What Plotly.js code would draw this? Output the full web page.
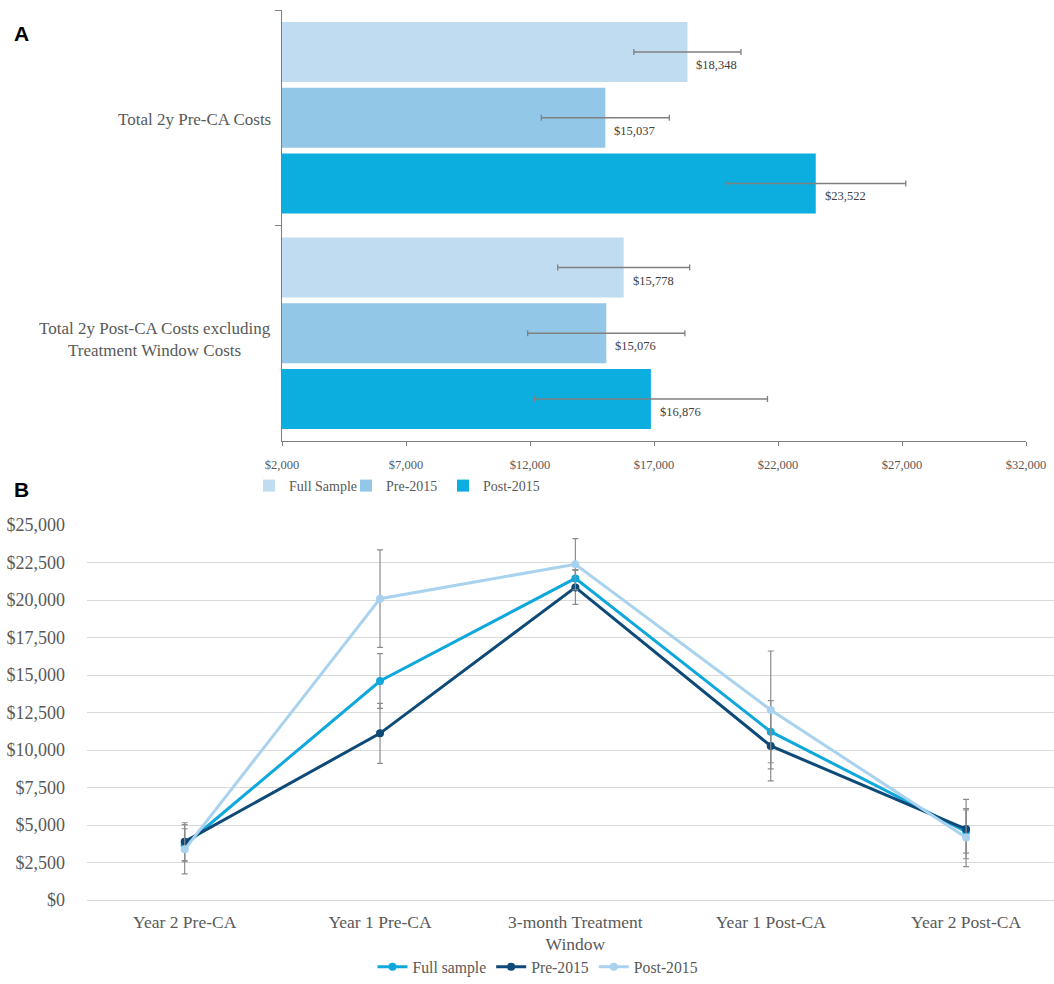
<!DOCTYPE html>
<html>
<head>
<meta charset="utf-8">
<script src="https://cdn.plot.ly/plotly-3.0.1.min.js"></script>
<style>html,body{margin:0;padding:0;background:#fff;}#chart{width:1054px;height:984px;}</style>
</head>
<body>
<div id="chart"></div>
<script>
// ---------- Panel A data ----------
const costCategories = ['Total 2y Pre-CA Costs', 'Total 2y Post-CA Costs excluding<br>Treatment Window Costs'];
const barSeriesNames = ['Full Sample', 'Pre-2015', 'Post-2015'];
const fullSampleCosts = [18348, 15778];
const pre2015Costs = [15037, 15076];
const post2015Costs = [23522, 16876];
const fullSampleErr = [2160, 2660];
const pre2015Err = [2580, 3170];
const post2015Err = [3630, 4700];
const costTicks = [2000, 7000, 12000, 17000, 22000, 27000, 32000];

// ---------- Panel B data ----------
const periods = ['Year 2 Pre-CA', 'Year 1 Pre-CA', '3-month Treatment<br>Window', 'Year 1 Post-CA', 'Year 2 Post-CA'];
const lineSeriesNames = ['Full sample', 'Pre-2015', 'Post-2015'];
const fullSampleLine = [3650, 14600, 21440, 11220, 4560];
const pre2015Line = [3890, 11110, 20840, 10270, 4730];
const post2015Line = [3380, 20090, 22380, 12670, 4160];
const fullSampleLineErr = [1100, 1830, 580, 2070, 1440];
const pre2015LineErr = [1260, 2000, 1130, 2330, 1980];
const post2015LineErr = [1640, 3250, 1710, 3930, 1930];

const serif = 'Liberation Serif, Times New Roman, serif';
const grey = '#595959';
const fmt = v => '$' + v.toLocaleString('en-US');

const barColors = ['#BFDCF0', '#93C7E7', '#0CADDF'];
const lineColors = ['#0FA8DC', '#0D4A78', '#A9D2EE'];

const barVals = [fullSampleCosts, pre2015Costs, post2015Costs];
const barErrs = [fullSampleErr, pre2015Err, post2015Err];
const lineVals = [fullSampleLine, pre2015Line, post2015Line];
const lineErrs = [fullSampleLineErr, pre2015LineErr, post2015LineErr];

// layout constants (pixels)
const W = 1054, H = 984;
const aTop = 10, aBottom = 441, aLeft = 282, aRight = 1026;
const bTop = 525, bBottom = 900, bLeft = 87;
const bargap = 0.085;
const slotPx = (aBottom - aTop) / costCategories.length * (1 - bargap) / barSeriesNames.length;

const traces = [];
barSeriesNames.forEach((name, i) => {
  traces.push({
    type: 'bar', orientation: 'h', name: name,
    y: costCategories, x: barVals[i],
    xaxis: 'x', yaxis: 'y', legend: 'legend',
    marker: {color: barColors[i]},
    error_x: {type: 'data', array: barErrs[i], visible: true, color: '#808080', thickness: 1.3, width: 3},
    hoverinfo: 'x+name'
  });
});
lineSeriesNames.forEach((name, i) => {
  traces.push({
    type: 'scatter', mode: 'lines+markers', name: name,
    x: periods, y: lineVals[i],
    xaxis: 'x2', yaxis: 'y2', legend: 'legend2',
    line: {color: lineColors[i], width: 3},
    marker: {color: lineColors[i], size: 8},
    error_y: {type: 'data', array: lineErrs[i], visible: true, color: '#8c8c8c', thickness: 1.2, width: 3},
    cliponaxis: false
  });
});

const annotations = [
  {text: '<b>A</b>', xref: 'paper', yref: 'paper', x: 12/W, y: 1 - 33/H, xanchor: 'left', yanchor: 'middle', showarrow: false,
   font: {family: 'Liberation Sans, Arial, sans-serif', size: 21, color: '#000'}},
  {text: '<b>B</b>', xref: 'paper', yref: 'paper', x: 12/W, y: 1 - 489/H, xanchor: 'left', yanchor: 'middle', showarrow: false,
   font: {family: 'Liberation Sans, Arial, sans-serif', size: 21, color: '#000'}}
];
// value labels for bars
barSeriesNames.forEach((name, i) => {
  costCategories.forEach((cat, j) => {
    annotations.push({
      text: fmt(barVals[i][j]), xref: 'x', yref: 'y', x: barVals[i][j], y: cat,
      xanchor: 'left', yanchor: 'middle', xshift: 7, yshift: -((i - 1) * slotPx + 13),
      showarrow: false, font: {family: serif, size: 12.5, color: '#404040'}
    });
  });
});
// category labels (centred lines)
costCategories.forEach((cat, j) => {
  annotations.push({
    text: cat, xref: 'paper', yref: 'y', x: 273/W, y: cat, xanchor: 'right', yanchor: 'middle',
    yshift: j === 0 ? -2 : -6,
    align: 'center', showarrow: false, font: {family: serif, size: 17, color: grey}
  });
});

const layout = {
  width: W, height: H,
  margin: {l: 0, r: 0, t: 0, b: 0},
  paper_bgcolor: '#fff', plot_bgcolor: '#fff',
  font: {family: serif, color: grey},
  showlegend: true,
  barmode: 'group', bargap: bargap, bargroupgap: 0.09,
  xaxis: {
    domain: [aLeft/W, aRight/W], anchor: 'y',
    range: [2000, 32000], tickvals: costTicks, ticktext: costTicks.map(fmt),
    showgrid: false, zeroline: false, showline: true, linecolor: '#7f7f7f', linewidth: 1,
    ticks: 'outside', ticklen: 4, tickcolor: '#7f7f7f', ticklabelstandoff: 8,
    tickfont: {family: serif, size: 12.5, color: grey}
  },
  yaxis: {
    domain: [1 - aBottom/H, 1 - aTop/H], anchor: 'x',
    type: 'category', autorange: 'reversed', showticklabels: false,
    showgrid: false, zeroline: false, showline: true, linecolor: '#7f7f7f', linewidth: 1,
    ticks: 'outside', tickson: 'boundaries', ticklen: 6, tickcolor: '#7f7f7f'
  },
  xaxis2: {
    domain: [bLeft/W, 1], anchor: 'y2',
    type: 'category', range: [-0.5, 4.45],
    showgrid: false, zeroline: false, showline: false, ticks: '', ticklabelstandoff: 9,
    tickfont: {family: serif, size: 17.5, color: grey}
  },
  yaxis2: {
    domain: [1 - bBottom/H, 1 - bTop/H], anchor: 'x2',
    range: [0, 25000], dtick: 2500, tickprefix: '$', tickformat: ',d',
    showgrid: true, gridcolor: '#D9D9D9', gridwidth: 1, zeroline: true, zerolinecolor: '#D9D9D9', zerolinewidth: 1,
    showline: false, ticks: '', ticklabelstandoff: 21,
    tickfont: {family: serif, size: 18, color: grey}
  },
  legend: {
    orientation: 'h', x: 249/W, y: 1 - 486/H, xanchor: 'left', yanchor: 'middle',
    font: {family: serif, size: 14, color: grey}, itemwidth: 30, traceorder: 'normal',
    entrywidth: 52, entrywidthmode: 'pixels',
    bgcolor: 'rgba(0,0,0,0)'
  },
  legend2: {
    orientation: 'h', x: 538/W, y: 1 - 967/H, xanchor: 'center', yanchor: 'middle',
    font: {family: serif, size: 15.7, color: grey}, traceorder: 'normal', itemwidth: 30,
    bgcolor: 'rgba(0,0,0,0)'
  },
  annotations: annotations
};
Plotly.newPlot('chart', traces, layout, {displayModeBar: false, staticPlot: true});
</script>
</body>
</html>
